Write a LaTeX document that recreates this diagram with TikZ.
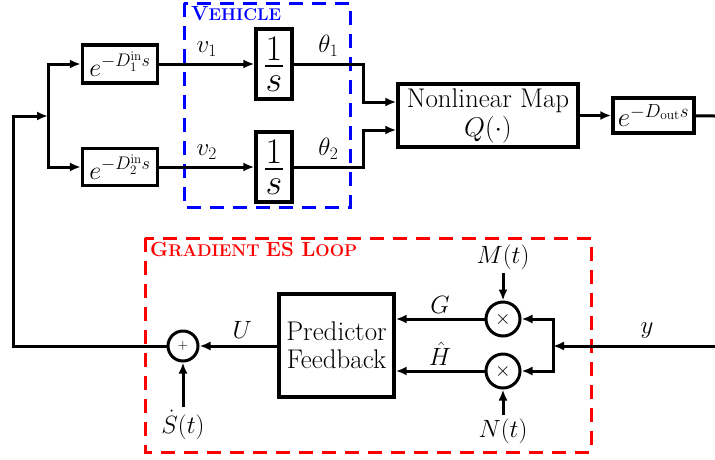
\RequirePackage{fix-cm}
\documentclass[tikz,border=0pt]{standalone}
\usepackage{graphicx}
\usetikzlibrary{arrows.meta,calc}
\newcommand{\bigc}[1]{{\fontsize{20.5}{24}\selectfont #1}}
\newcommand{\smc}[1]{{\fontsize{17}{24}\selectfont #1}}
\newcommand{\onesfrac}{{\fontsize{36}{36}\selectfont$\vcenter{\offinterlineskip\hbox to 18pt{\hss$1$\hss}\kern5pt\hrule height 1.6pt\kern9pt\hbox to 18pt{\hss$s$\hss}}$}}
\begin{document}
\begin{tikzpicture}[x=1pt,y=-1pt,
  wire/.style={line width=3pt},
  arr/.style={wire, -{Latex[length=11pt,width=9pt]}},
  blk/.style={draw, line width=3.4pt, inner sep=0pt, font=\fontsize{27}{31}\selectfont},
  dly/.style={draw, line width=3.4pt, inner sep=0pt, font=\fontsize{26}{30}\selectfont},
  intg/.style={draw, line width=3.4pt, inner sep=0pt, minimum width=36pt, minimum height=70pt},
  lbl/.style={font=\fontsize{25}{29}\selectfont, inner sep=3pt},
  mult/.style={circle, draw, line width=3pt, inner sep=0pt, minimum size=34pt, font=\fontsize{20}{24}\selectfont},
  summ/.style={circle, draw, line width=3pt, inner sep=0pt, minimum size=30pt, font=\fontsize{14}{16}\selectfont},
  grp/.style={line width=3pt, dash pattern=on 14pt off 9pt},
  grplbl/.style={anchor=west, inner sep=0pt, font=\bfseries},
]
\useasboundingbox (0,0) rectangle (715,459);
% group frames
\draw[grp, blue] (184,3) rectangle (350,207);
\node[grplbl, text=blue] (vlab) at (191,14) {\bigc{V}\smc{EHICLE}};
\draw[grp, red] (145,238) rectangle (591,452);
\node[grplbl, text=red] (glab) at (150,249) {\bigc{G}\smc{RADIENT\ }\bigc{ES\ }\bigc{L}\smc{OOP}};
% top blocks
\node[dly, minimum width=75pt, minimum height=38pt] (d1) at (120,64) {$e^{-D_1^{\mathrm{in}}s}$};
\node[dly, minimum width=75pt, minimum height=37pt] (d2) at (120,167) {$e^{-D_2^{\mathrm{in}}s}$};
\node[intg] (i1) at (274,64) {\onesfrac};
\node[intg] (i2) at (274,167) {\onesfrac};
\node[blk, minimum width=180pt, minimum height=63pt, align=center] (nl) at (488,115.5) {Nonlinear Map\\[-2pt]$Q(\cdot)$};
\node[blk, minimum width=81pt, minimum height=35pt] (dout) at (653.5,115.5) {$e^{-D_{\mathrm{out}}s}$};
% bottom blocks
\node[blk, minimum width=115pt, minimum height=103pt, align=center] (pf) at (336.5,345.5) {Predictor\\[-3pt]Feedback};
\node[summ] (sum) at (183,346) {$+$};
\node[mult] (m1) at (503,319) {$\times$};
\node[mult] (m2) at (503,371) {$\times$};
\node[lbl] (mlab) at (503,257) {$M(t)$};
\node[lbl] (nlab) at (503,431) {$N(t)$};
\node[lbl] (slab) at (183,425) {$\dot S(t)$};
% coordinates
\coordinate (br) at (48,116);
\coordinate (lt) at (13,116);
\coordinate (lb) at (13,346);
\coordinate (k1) at (363,64);
\coordinate (k2) at (363,167);
\coordinate (outend) at (715,116);
\coordinate (yin) at (715,346);
\coordinate (yb) at (553,346);
% top connectors
\draw[arr] (sum.west) -- (lb) -- (lt) -- (br);
\draw[arr] (br) |- (d1.west);
\draw[arr] (br) |- (d2.west);
\draw[arr] (d1) -- node[lbl, above=3pt]{$v_1$} (i1);
\draw[arr] (d2) -- node[lbl, above=3pt]{$v_2$} (i2);
\draw[arr] (i1.east) -- node[lbl, above=3pt]{$\theta_1$} (k1) |- ([yshift=13.5pt]nl.west);
\draw[arr] (i2.east) -- node[lbl, above=3pt]{$\theta_2$} (k2) |- ([yshift=-14.5pt]nl.west);
\draw[arr] (nl) -- (dout);
\draw[wire] (dout) -- (outend);
% bottom connectors
\draw[arr] (yin) -- node[lbl, above=3pt, pos=0.42]{$y$} (yb);
\draw[arr] (yb) |- (m1.east);
\draw[arr] (yb) |- (m2.east);
\draw[arr] (m1) -- node[lbl, above=1pt]{$G$} (pf.east |- m1);
\draw[arr] (m2) -- node[lbl, above=1pt]{$\hat H$} (pf.east |- m2);
\draw[arr] (mlab) -- (m1);
\draw[arr] (nlab) -- (m2);
\draw[arr] (pf.west |- sum) -- node[lbl, above=3pt, pos=0.45]{$U$} (sum);
\draw[arr] (slab) -- (sum);
\end{tikzpicture}
\end{document}
